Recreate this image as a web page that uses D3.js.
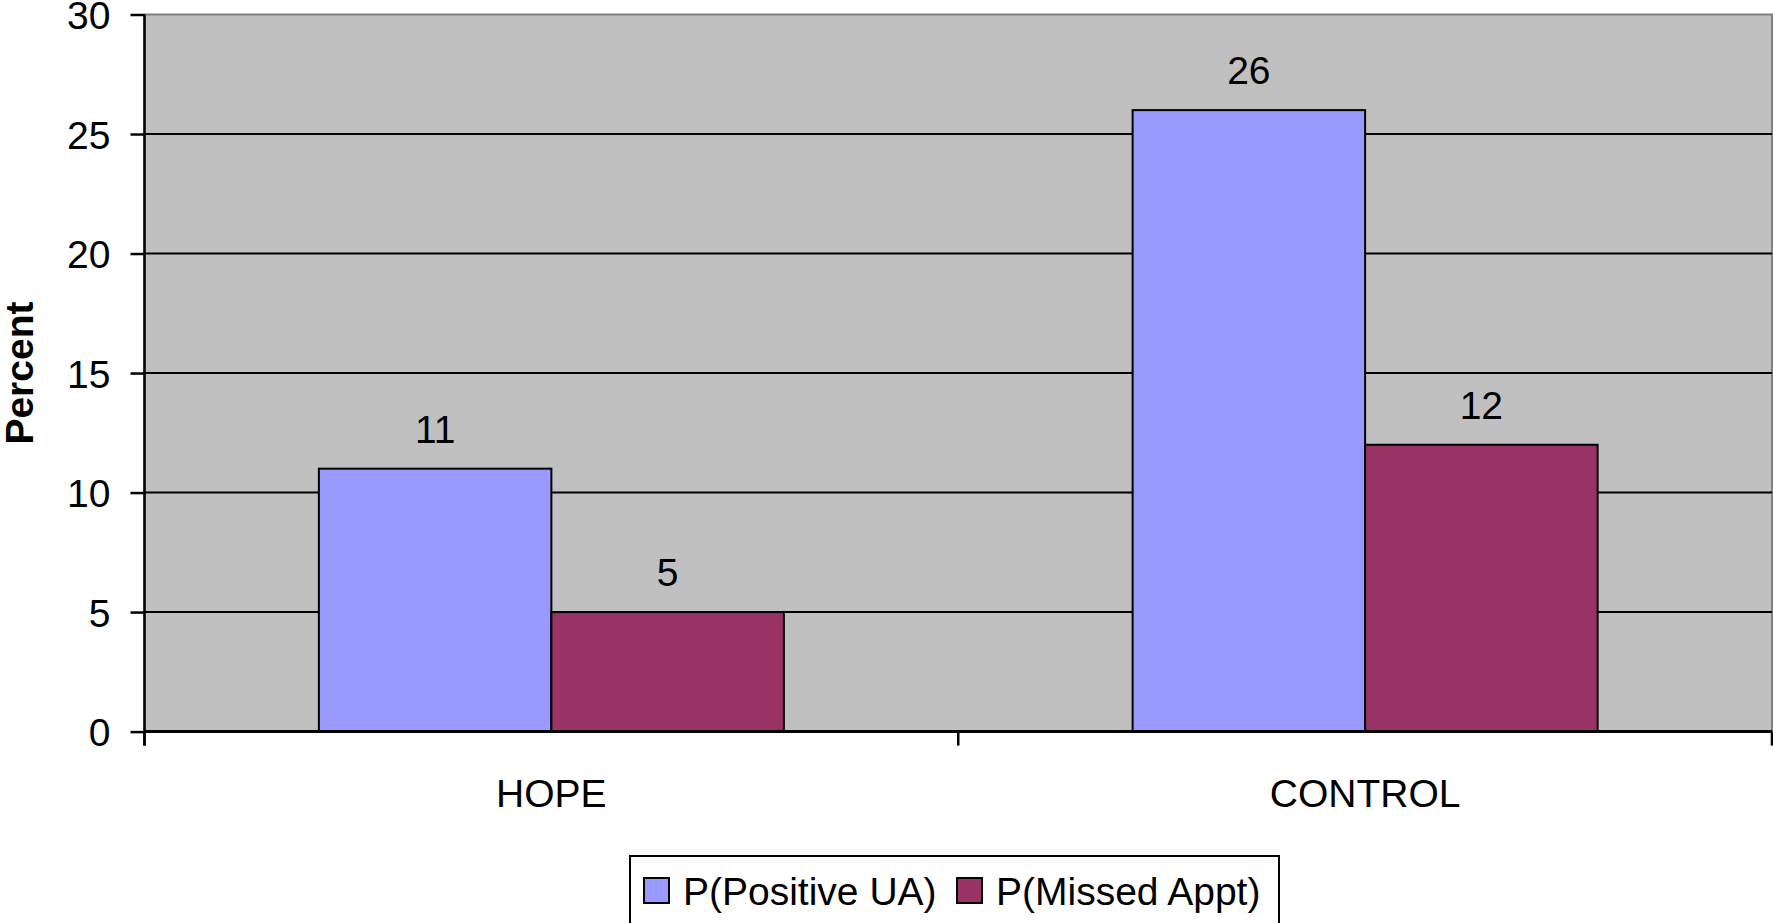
<!DOCTYPE html>
<html>
<head>
<meta charset="utf-8">
<script src="https://cdn.jsdelivr.net/npm/d3@7"></script>
<style>
  html, body { margin: 0; padding: 0; background: #fff; overflow: hidden; }
  svg { display: block; font-family: "Liberation Sans", Arial, sans-serif; }
</style>
</head>
<body>
<svg id="chart" width="1773" height="923"></svg>
<script>
const categories = ["HOPE", "CONTROL"];
const seriesNames = ["P(Positive UA)", "P(Missed Appt)"];
const positiveUA = [11, 26];
const missedAppt = [5, 12];
const yTicks = [0, 5, 10, 15, 20, 25, 30];
const colors = ["#9999FF", "#993366"];

const seriesValues = [positiveUA, missedAppt];
const rows = categories.map((c, i) => ({
  category: c,
  values: seriesNames.map((s, j) => ({ series: s, idx: j, value: seriesValues[j][i] }))
}));

const svg = d3.select("#chart");
const pLeft = 144.5, pRight = 1772, pTop = 14.5, pBottom = 731.6;

const x0 = d3.scaleBand().domain(categories).range([pLeft, pRight]).padding(0);
const x1 = d3.scaleBand().domain(seriesNames).range([0, x0.bandwidth()])
  .paddingInner(0).paddingOuter(0.75);
const y = d3.scaleLinear().domain([0, 30]).range([pBottom, pTop]);

// plot area background
svg.append("rect")
  .attr("x", pLeft).attr("y", pTop)
  .attr("width", pRight - pLeft).attr("height", pBottom - pTop)
  .attr("fill", "#C0C0C0")
  .attr("stroke", "#808080").attr("stroke-width", 2);

// gridlines
svg.append("g").selectAll("line")
  .data(yTicks.filter(t => t > 0 && t < 30))
  .join("line")
  .attr("x1", pLeft).attr("x2", pRight)
  .attr("y1", d => y(d)).attr("y2", d => y(d))
  .attr("stroke", "#000").attr("stroke-width", 2);

// bars
const groups = svg.append("g").selectAll("g")
  .data(rows).join("g")
  .attr("transform", d => `translate(${x0(d.category)},0)`);

groups.selectAll("rect")
  .data(d => d.values).join("rect")
  .attr("x", d => x1(d.series))
  .attr("y", d => y(d.value))
  .attr("width", x1.bandwidth())
  .attr("height", d => y(0) - y(d.value))
  .attr("fill", d => colors[d.idx])
  .attr("stroke", "#000").attr("stroke-width", 2);

groups.selectAll("text")
  .data(d => d.values).join("text")
  .attr("x", d => x1(d.series) + x1.bandwidth() / 2)
  .attr("y", d => y(d.value) - 26)
  .attr("text-anchor", "middle")
  .attr("font-size", 39)
  .attr("fill", "#000")
  .text(d => d.value);

// y axis
const yAxis = d3.axisLeft(y).tickValues(yTicks).tickSize(14).tickPadding(20)
  .tickFormat(d3.format("d"));
const gy = svg.append("g").attr("transform", `translate(${pLeft},0)`).call(yAxis);
gy.select(".domain").attr("stroke", "#000").attr("stroke-width", 2.5)
  .attr("d", `M0,${pTop}V${pBottom + 14}`);
gy.selectAll(".tick line").attr("stroke", "#000").attr("stroke-width", 2.5);
gy.selectAll(".tick text").attr("font-size", 39).attr("fill", "#000")
  .attr("font-family", "Liberation Sans, Arial, sans-serif").attr("dy", "0.36em");

// x axis
const xAxis = d3.axisBottom(x0).tickSize(0).tickPadding(0);
const gx = svg.append("g").attr("transform", `translate(0,${pBottom})`).call(xAxis);
gx.select(".domain").attr("stroke", "#000").attr("stroke-width", 3)
  .attr("d", `M${pLeft},0H${pRight}`);
gx.selectAll(".tick text").attr("font-size", 39).attr("fill", "#000")
  .attr("font-family", "Liberation Sans, Arial, sans-serif")
  .attr("y", 75).attr("dy", 0);
// category boundary ticks
const boundaries = [pLeft].concat(categories.map(c => x0(c) + x0.bandwidth()));
svg.append("g").selectAll("line").data(boundaries).join("line")
  .attr("x1", d => d).attr("x2", d => d)
  .attr("y1", pBottom).attr("y2", pBottom + 14)
  .attr("stroke", "#000").attr("stroke-width", 2.5);

// y axis title
svg.append("text")
  .attr("transform", `translate(33,${(pTop + pBottom) / 2}) rotate(-90)`)
  .attr("text-anchor", "middle")
  .attr("font-size", 39).attr("font-weight", "bold")
  .text("Percent");

// legend
const legend = svg.append("g");
legend.append("rect")
  .attr("x", 630).attr("y", 856).attr("width", 649).attr("height", 100)
  .attr("fill", "#fff").attr("stroke", "#000").attr("stroke-width", 2);
const legendX = [644, 957];
seriesNames.forEach((s, i) => {
  legend.append("rect")
    .attr("x", legendX[i]).attr("y", 878).attr("width", 25).attr("height", 25)
    .attr("fill", colors[i]).attr("stroke", "#000").attr("stroke-width", 2);
  legend.append("text")
    .attr("x", legendX[i] + 39).attr("y", 905)
    .attr("font-size", 39).attr("fill", "#000")
    .text(s);
});
</script>
</body>
</html>
